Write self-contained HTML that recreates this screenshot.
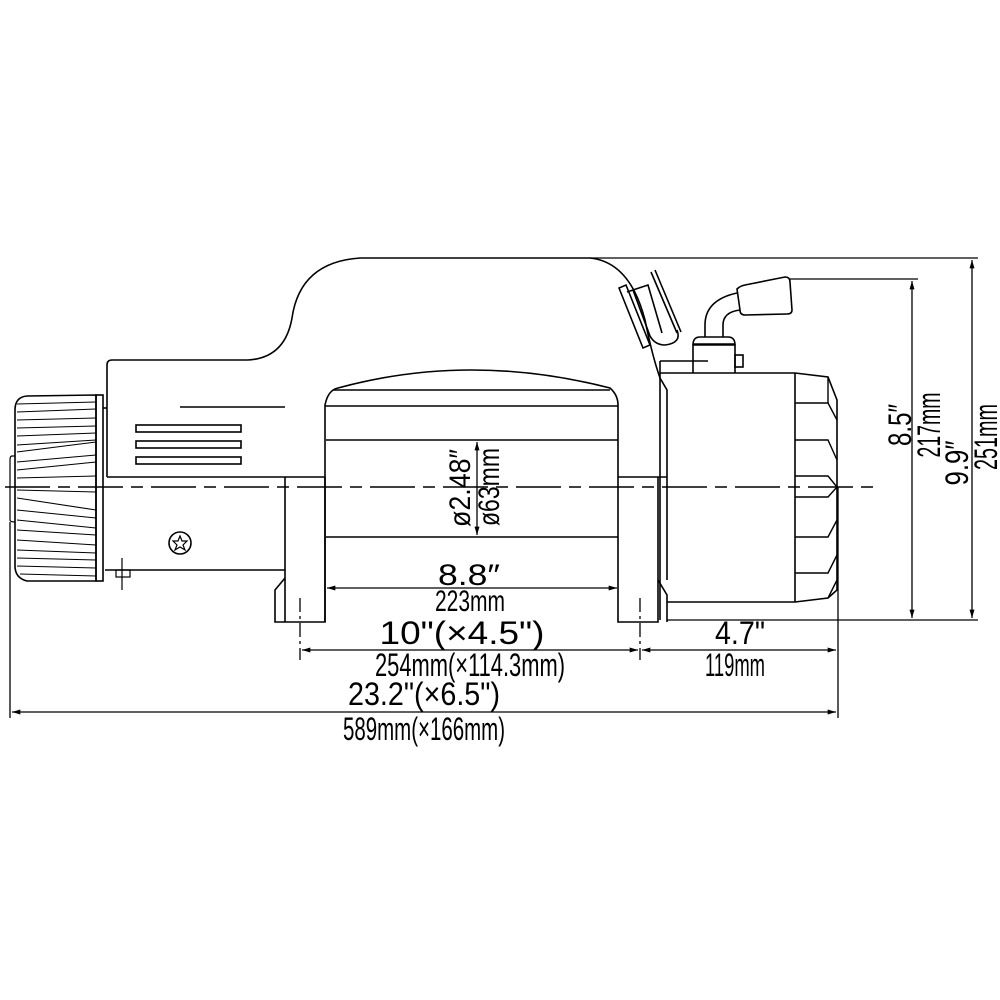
<!DOCTYPE html>
<html><head><meta charset="utf-8"><style>html,body{margin:0;padding:0;background:#fff}svg{display:block}</style></head>
<body>
<svg width="1000" height="1000" viewBox="0 0 1000 1000" xmlns="http://www.w3.org/2000/svg" font-family="Liberation Sans, sans-serif">
<defs>
<marker id="a" viewBox="0 0 10 6" refX="10" refY="3" markerWidth="12" markerHeight="5" orient="auto-start-reverse" markerUnits="userSpaceOnUse"><path d="M0,0 L10,3 L0,6 Z" fill="#000"/></marker>
</defs>
<g fill="none" stroke="#000" stroke-width="1.6">
<path d="M107,477 L107,365 Q107,360 112,360 L248,360 Q285,358 292,318 Q300,262 360,258 L590,258 Q630,262 645,320 Q652,355 660,378 L667,390 L667,477"/>
<line x1="618" y1="477" x2="667" y2="477"/>
<line x1="107" y1="477" x2="325" y2="477"/>
<line x1="180" y1="407" x2="285" y2="407"/>
<rect x="136" y="425" width="105" height="7"/>
<rect x="136" y="441" width="105" height="7"/>
<rect x="136" y="457" width="105" height="7"/>
<line x1="105" y1="570" x2="285" y2="570"/>
<line x1="285" y1="477" x2="285" y2="622"/>
<circle cx="180" cy="543" r="11"/>
<path d="M180,536 L182,541 L187,541 L183,545 L185,550 L180,547 L175,550 L177,545 L173,541 L178,541 Z" stroke-width="1.2"/>
<rect x="116" y="570" width="14" height="7" stroke-width="1.2"/>
<line x1="122" y1="558" x2="122" y2="590" stroke-width="1.2"/>
<path d="M285,578 L275,590 L275,622 L325,622 L325,477"/>
<path d="M325,622 L325,405 Q328,390 338,388 Q470,352 610,388 Q618,395 618,405 L618,622 L658,622 L658,477"/>
<line x1="333" y1="390" x2="610" y2="390"/>
<line x1="325" y1="406" x2="618" y2="406"/>
<line x1="326" y1="440" x2="618" y2="440"/>
<line x1="326" y1="537" x2="618" y2="537"/>
<path d="M658,580 L667,595 L667,622"/>
<line x1="667" y1="477" x2="667" y2="580"/>
<line x1="660" y1="373" x2="795" y2="373"/>
<line x1="660" y1="361" x2="660" y2="620"/>
<line x1="667" y1="602" x2="795" y2="602"/>
<line x1="795" y1="373" x2="795" y2="602"/>
<line x1="660" y1="361" x2="708" y2="361"/>
<path d="M795,373 L828,377 L837,400 L837,590 L828,598 L795,602"/>
<g stroke-width="1.4">
<path d="M795,403 L828,403 L837,420"/><path d="M828,377 L828,403"/>
<path d="M795,440 L828,440 L837,460"/>
<path d="M795,476 L828,476 L837,487 L828,497 L795,497"/>
<path d="M795,537 L828,537 L837,520"/>
<path d="M795,573 L828,573 L837,555"/>
<path d="M828,598 L837,580"/>
</g>
<path d="M693,373 L693,345 L735,345 L735,373"/>
<path d="M693,345 Q693,337 700,337 L728,337 Q735,337 735,345"/>
<line x1="693" y1="344" x2="735" y2="344"/>
<rect x="735" y="355" width="8" height="12"/>
<path d="M705,337 L705,325 Q705,300 737,293"/>
<path d="M723,337 L723,325 Q723,312 740,310"/>
<path d="M737,289 Q740,286 745,285 L785,277 Q790,277 790,282 L792,310 Q792,314 787,314 L745,315 Q740,315 740,310 Z"/>
<path d="M619,288 L643,348 L650,345 L626,285 Z"/>
<path d="M651,272 L677,333"/><path d="M655,270 L681,332"/>
<path d="M627,292 L633,290 L650,336 Q655,345 665,345 Q682,343 677,330"/>
<path d="M633,290 L648,285 L662,333"/>
<path d="M96,395 L96,581 L27,581 Q15,578 15,566 L15,410 Q15,397 27,396 Z"/>
<rect x="96" y="395" width="7" height="186"/>
<path d="M107,408 L103,408"/>
<path d="M15,456 L12,456 Q10,456 10,460 L10,520 Q10,522 15,522" stroke-width="1.2"/>
<g stroke-width="1.1">
<line x1="17" y1="404" x2="96" y2="402"/><line x1="17" y1="412" x2="96" y2="409"/>
<line x1="17" y1="420" x2="96" y2="418"/><line x1="17" y1="428" x2="96" y2="426"/>
<line x1="17" y1="436" x2="96" y2="433"/><line x1="17" y1="445" x2="96" y2="440"/>
<line x1="17" y1="452" x2="96" y2="442"/><line x1="17" y1="462" x2="96" y2="455"/>
<line x1="17" y1="470" x2="96" y2="462"/><line x1="17" y1="478" x2="96" y2="476"/>
<line x1="17" y1="490" x2="96" y2="492"/><line x1="17" y1="498" x2="96" y2="510"/>
<line x1="17" y1="510" x2="96" y2="518"/><line x1="17" y1="520" x2="96" y2="528"/>
<line x1="17" y1="530" x2="96" y2="535"/><line x1="17" y1="540" x2="96" y2="545"/>
<line x1="17" y1="550" x2="96" y2="553"/><line x1="17" y1="558" x2="96" y2="560"/>
<line x1="17" y1="566" x2="96" y2="568"/><line x1="20" y1="574" x2="96" y2="576"/>
</g>
</g>
<line x1="5" y1="487" x2="873" y2="487" stroke="#000" stroke-width="1.5" stroke-dasharray="45,8,12,8"/>
<g stroke="#000" stroke-width="1.3" fill="none">
<line x1="590" y1="258" x2="978" y2="258"/>
<line x1="790" y1="279" x2="918" y2="279"/>
<line x1="667" y1="620" x2="978" y2="620"/>
<line x1="10" y1="522" x2="10" y2="718"/>
<line x1="838" y1="487" x2="838" y2="718"/>
<line x1="300" y1="598" x2="300" y2="660" stroke-dasharray="14,4,3,4"/>
<line x1="640" y1="598" x2="640" y2="660" stroke-dasharray="14,4,3,4"/>
<line x1="912" y1="281" x2="912" y2="618" marker-start="url(#a)" marker-end="url(#a)"/>
<line x1="972" y1="260" x2="972" y2="618" marker-start="url(#a)" marker-end="url(#a)"/>
<line x1="477" y1="442" x2="477" y2="535" marker-start="url(#a)" marker-end="url(#a)"/>
<line x1="327" y1="588" x2="617" y2="588" marker-start="url(#a)" marker-end="url(#a)"/>
<line x1="302" y1="650" x2="638" y2="650" marker-start="url(#a)" marker-end="url(#a)"/>
<line x1="642" y1="650" x2="836" y2="650" marker-start="url(#a)" marker-end="url(#a)"/>
<line x1="12" y1="712" x2="836" y2="712" marker-start="url(#a)" marker-end="url(#a)"/>
</g>
<g font-size="32" fill="#000" text-anchor="middle">
<text x="469" y="585" textLength="62" lengthAdjust="spacingAndGlyphs" font-size="30">8.8″</text>
<text x="470" y="611" textLength="70" lengthAdjust="spacingAndGlyphs" font-size="30">223mm</text>
<text x="462" y="644" textLength="165" lengthAdjust="spacingAndGlyphs">10"(×4.5")</text>
<text x="470" y="676" textLength="190" lengthAdjust="spacingAndGlyphs">254mm(×114.3mm)</text>
<text x="740" y="644" textLength="50" lengthAdjust="spacingAndGlyphs">4.7"</text>
<text x="735" y="676" textLength="60" lengthAdjust="spacingAndGlyphs">119mm</text>
<text x="424" y="705" textLength="152" lengthAdjust="spacingAndGlyphs">23.2"(×6.5")</text>
<text x="424" y="740" textLength="162" lengthAdjust="spacingAndGlyphs">589mm(×166mm)</text>
<text transform="translate(470,488) rotate(-90)" textLength="78" lengthAdjust="spacingAndGlyphs" font-size="30">ø2.48″</text>
<text transform="translate(499,487) rotate(-90)" textLength="78" lengthAdjust="spacingAndGlyphs" font-size="30">ø63mm</text>
<text transform="translate(911,425) rotate(-90)" textLength="42" lengthAdjust="spacingAndGlyphs">8.5″</text>
<text transform="translate(940,425) rotate(-90)" textLength="65" lengthAdjust="spacingAndGlyphs">217mm</text>
<text transform="translate(968,463) rotate(-90)" textLength="45" lengthAdjust="spacingAndGlyphs">9.9″</text>
<text transform="translate(997,437) rotate(-90)" textLength="66" lengthAdjust="spacingAndGlyphs">251mm</text>
</g>
</svg>
</body></html>
